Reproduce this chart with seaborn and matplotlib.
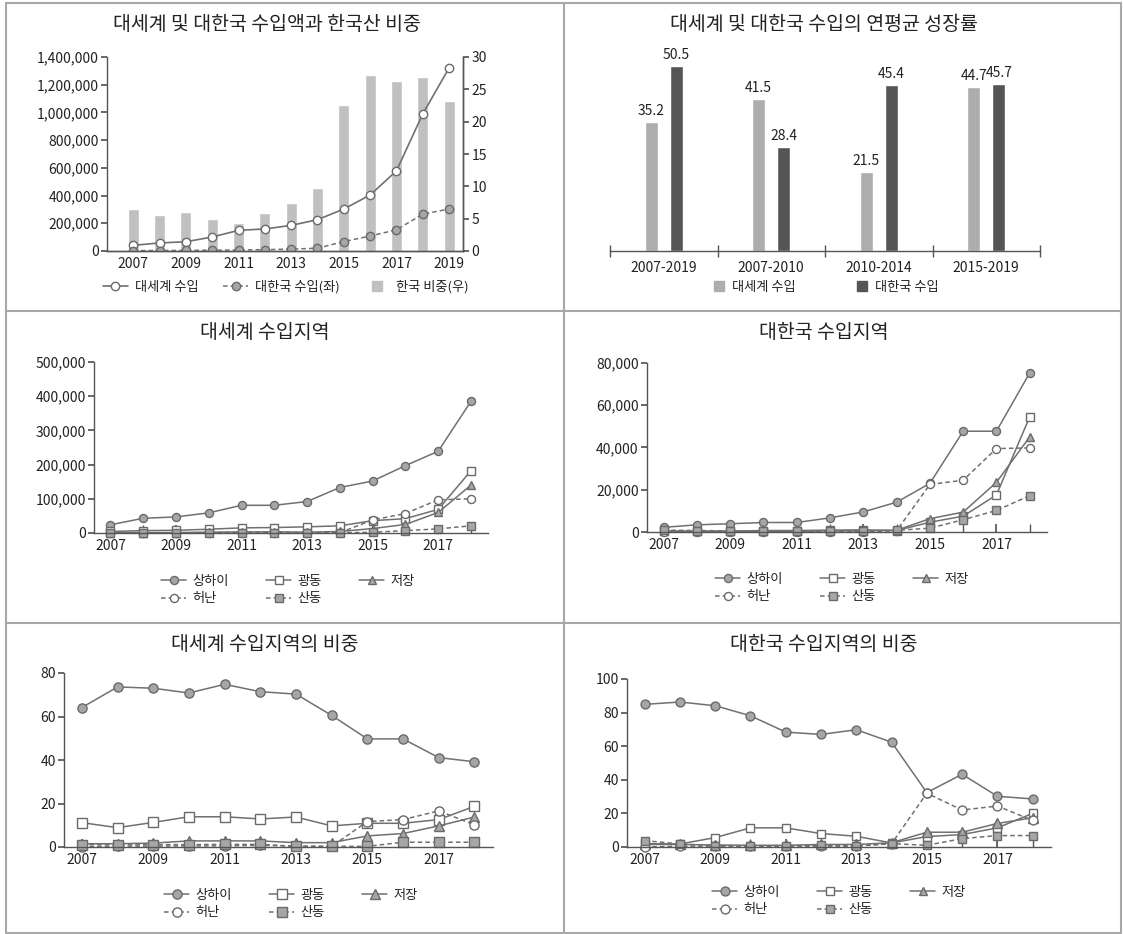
import matplotlib
matplotlib.use("Agg")
import matplotlib.pyplot as plt
import numpy as np
import pandas as pd
import seaborn as sns
from matplotlib.lines import Line2D
from matplotlib.ticker import FuncFormatter, MultipleLocator, FixedLocator

# ---------------- data ----------------
years_total = [2007, 2008, 2009, 2010, 2011, 2012, 2013, 2014, 2015, 2016, 2017, 2018, 2019]
world_imports = [41000, 58000, 67000, 101000, 149000, 159000, 185000, 226000,
                 303000, 404000, 578000, 989000, 1321000]
korea_imports = [3000, 3500, 4000, 6000, 7000, 9500, 14000, 20000,
                 68000, 108000, 153000, 266000, 303000]
korea_share = [6.5, 5.5, 6.0, 4.9, 4.3, 5.8, 7.5, 9.8, 22.6, 27.2, 26.3, 26.9, 23.2]

periods = ["2007-2019", "2007-2010", "2010-2014", "2015-2019"]
growth_world = [35.2, 41.5, 21.5, 44.7]
growth_korea = [50.5, 28.4, 45.4, 45.7]

years_region = [2007, 2008, 2009, 2010, 2011, 2012, 2013, 2014, 2015, 2016, 2017, 2018]
regions = ["상하이", "광동", "저장", "허난", "산동"]

world_region_values = {
    "상하이": [24000, 43000, 47000, 59000, 81000, 81000, 92000, 133000, 152000, 197000, 239000, 385000],
    "광동": [4500, 7000, 8000, 11000, 15000, 16000, 18000, 21000, 36000, 42000, 69000, 182000],
    "저장": [1000, 1200, 1300, 2500, 3300, 3400, 2600, 4400, 13000, 25000, 60000, 140000],
    "허난": [300, 400, 400, 500, 500, 1000, 600, 1000, 38000, 57000, 97000, 100000],
    "산동": [400, 600, 600, 800, 1100, 1100, 700, 1000, 2000, 7000, 12000, 21000],
}
korea_region_values = {
    "상하이": [2200, 3400, 3900, 4500, 4500, 6700, 9500, 14100, 23000, 47700, 47700, 75300],
    "광동": [300, 300, 400, 700, 700, 900, 1000, 700, 4600, 7500, 17500, 54500],
    "저장": [500, 300, 400, 300, 400, 500, 600, 800, 6300, 9400, 23500, 45000],
    "허난": [0, 200, 200, 200, 200, 200, 200, 600, 22500, 24500, 39500, 39800],
    "산동": [900, 700, 500, 400, 400, 500, 400, 800, 1800, 5800, 10200, 17200],
}
world_region_share = {
    "상하이": [64.1, 73.6, 73.0, 70.8, 74.8, 71.4, 70.3, 60.5, 49.7, 49.7, 41.1, 39.2],
    "광동": [11.2, 8.9, 11.3, 13.9, 13.9, 12.9, 13.8, 9.7, 10.9, 10.9, 12.6, 18.7],
    "저장": [1.5, 1.5, 1.8, 2.8, 2.8, 2.8, 2.0, 2.0, 5.1, 6.2, 9.7, 13.8],
    "허난": [0.2, 0.4, 0.4, 0.5, 0.5, 0.8, 0.4, 0.3, 11.7, 12.6, 16.6, 10.2],
    "산동": [1.1, 1.1, 1.1, 1.1, 1.2, 1.2, 0.3, 0.3, 0.3, 2.2, 2.2, 2.2],
}
korea_region_share = {
    "상하이": [84.9, 86.3, 84.1, 78.1, 68.4, 67.0, 69.8, 62.4, 32.4, 43.3, 30.2, 28.6],
    "광동": [2.0, 1.8, 5.6, 11.4, 11.4, 8.0, 6.4, 2.4, 6.2, 7.4, 11.4, 20.0],
    "저장": [1.5, 1.5, 1.2, 1.0, 1.0, 1.5, 1.5, 2.5, 8.8, 8.8, 14.0, 17.4],
    "허난": [0.0, 0.5, 0.5, 0.5, 0.5, 0.5, 0.5, 2.0, 32.0, 22.0, 24.4, 15.8],
    "산동": [3.8, 1.8, 0.8, 0.8, 0.8, 1.0, 0.8, 2.0, 1.0, 5.0, 6.8, 6.8],
}

# ---------------- style ----------------
sns.set_theme(style="ticks")
plt.rcParams["font.family"] = ["Noto Sans CJK KR", "DejaVu Sans"]
TEXT = "#222222"
AXIS = "#555555"
LINE = "#707070"
EDGE = "#6a6a6a"
FILL = "#a6a6a6"
BAR_LIGHT = "#c0c0c0"
BAR_MID = "#adadad"
BAR_DARK = "#555555"
plt.rcParams.update({
    "text.color": TEXT, "axes.labelcolor": TEXT,
    "xtick.color": AXIS, "ytick.color": AXIS,
    "xtick.labelcolor": TEXT, "ytick.labelcolor": TEXT,
    "axes.edgecolor": AXIS, "axes.linewidth": 1.0,
})

W, H = 1123, 934
fig = plt.figure(figsize=(W / 100, H / 100), dpi=100)
fig.patch.set_facecolor("white")


def px_axes(left, top, right, bottom):
    return fig.add_axes([left / W, 1 - bottom / H, (right - left) / W, (bottom - top) / H])


def fig_title(x, y, s):
    fig.text(x / W, 1 - y / H, s, ha="center", va="center", fontsize=14, color=TEXT)


comma = FuncFormatter(lambda v, p: f"{int(v):,}")

# grid of panel borders
border = dict(color="#a8a8a8", lw=1.5, transform=fig.transFigure)
for xs, ys in [([6, 6], [3, 933]), ([1121, 1121], [3, 933]), ([6, 1121], [3, 3]),
               ([6, 1121], [933, 933]), ([564, 564], [3, 933]),
               ([6, 1121], [311, 311]), ([6, 1121], [623, 623])]:
    fig.add_artist(Line2D([x / W for x in xs], [1 - y / H for y in ys], **border))

# ---------------- panel 1: imports and Korea share ----------------
ax_bar = px_axes(107, 57, 463, 251)
sns.barplot(x=years_total, y=korea_share, native_scale=True, width=0.42,
            color=BAR_LIGHT, saturation=1, ax=ax_bar, zorder=1)
ax_bar.set_xlabel(""); ax_bar.set_ylabel("")

# line axis on the left, drawn above the bars
ax_line = ax_bar.twinx()
sns.lineplot(x=years_total, y=world_imports, ax=ax_line, color=LINE, lw=1.2,
             marker="o", markersize=6, markerfacecolor="white", markeredgecolor=EDGE,
             markeredgewidth=1.0)
sns.lineplot(x=years_total, y=korea_imports, ax=ax_line, color=LINE, lw=1.1,
             linestyle=(0, (3, 2)), marker="o", markersize=6, markerfacecolor=FILL,
             markeredgecolor=EDGE, markeredgewidth=1.0)
ax_line.set_ylim(0, 1400000)
ax_line.yaxis.set_major_locator(MultipleLocator(200000))
ax_line.yaxis.set_major_formatter(comma)
ax_line.yaxis.tick_left()
ax_line.yaxis.set_label_position("left")
ax_line.tick_params(axis="y", direction="out", length=4, labelsize=10, pad=2)
ax_line.spines["top"].set_visible(False)
ax_line.spines["right"].set_visible(True)
ax_line.spines["left"].set_visible(True)
ax_line.set_xlim(2006.0, 2019.53)
ax_line.set_ylabel("")

# share axis on the right
ax_bar.set_ylim(0, 30)
ax_bar.yaxis.set_major_locator(MultipleLocator(5))
ax_bar.yaxis.tick_right()
ax_bar.yaxis.set_label_position("right")
ax_bar.spines["top"].set_visible(False)
ax_bar.spines["left"].set_visible(False)
ax_bar.set_xlim(2006.0, 2019.53)
ax_bar.set_xticks(years_total[::2])
ax_bar.set_xticks(years_total, minor=True)
ax_bar.tick_params(axis="x", which="both", direction="in", length=5, labelsize=10, pad=4)
ax_bar.tick_params(axis="y", direction="out", length=4, labelsize=10, pad=2,
                   left=False, labelleft=False, right=True, labelright=True)
fig_title(267, 25, "대세계 및 대한국 수입액과 한국산 비중")

h1 = [Line2D([], [], color=LINE, lw=1.2, marker="o", ms=6, mfc="white", mec=EDGE),
      Line2D([], [], color=LINE, lw=1.1, ls=(0, (3, 2)), marker="o", ms=6, mfc=FILL, mec=EDGE),
      Line2D([], [], color=BAR_LIGHT, lw=0, marker="s", ms=7)]
fig.legend(h1, ["대세계 수입", "대한국 수입(좌)", "한국 비중(우)"], loc="center",
           bbox_to_anchor=(286 / W, 1 - 287 / H), ncol=3, frameon=False, fontsize=9.5,
           handlelength=1.9, handletextpad=0.5, columnspacing=1.9)

# ---------------- panel 2: average annual growth ----------------
ax2 = px_axes(610, 57, 1040, 251)
growth_df = pd.DataFrame({
    "period": periods * 2,
    "series": ["대세계 수입"] * 4 + ["대한국 수입"] * 4,
    "value": growth_world + growth_korea,
})
sns.barplot(data=growth_df, x="period", y="value", hue="series",
            palette=[BAR_MID, BAR_DARK], saturation=1, width=0.467, gap=0.485,
            legend=False, ax=ax2)
for cont in ax2.containers:
    ax2.bar_label(cont, fmt="%.1f", padding=3, fontsize=10, color=TEXT)
ax2.set_xlim(-0.5, 3.5)
ax2.set_ylim(0, 53)
ax2.set_yticks([])
for s in ["top", "left", "right"]:
    ax2.spines[s].set_visible(False)
ax2.set_xticks(range(4))
ax2.set_xticklabels(periods)
ax2.xaxis.set_minor_locator(FixedLocator([-0.5, 0.5, 1.5, 2.5, 3.5]))
ax2.tick_params(axis="x", which="major", length=0, labelsize=10, pad=7)
ax2.tick_params(axis="x", which="minor", direction="inout", length=8)
ax2.set_xlabel(""); ax2.set_ylabel("")
fig_title(824, 25, "대세계 및 대한국 수입의 연평균 성장률")

h2 = [Line2D([], [], color=BAR_MID, lw=0, marker="s", ms=7),
      Line2D([], [], color=BAR_DARK, lw=0, marker="s", ms=7)]
fig.legend(h2, ["대세계 수입", "대한국 수입"], loc="center",
           bbox_to_anchor=(826 / W, 1 - 287 / H), ncol=2, frameon=False, fontsize=9.5,
           handlelength=0.8, handletextpad=0.6, columnspacing=4.6)

# ---------------- panels 3-6: regions ----------------
styles = {
    "상하이": dict(ls="-", marker="o", mfc=FILL),
    "광동": dict(ls="-", marker="s", mfc="white"),
    "저장": dict(ls="-", marker="^", mfc=FILL),
    "허난": dict(ls=(0, (3, 2)), marker="o", mfc="white"),
    "산동": dict(ls=(0, (3, 2)), marker="s", mfc=FILL),
}
legend_order = ["상하이", "허난", "광동", "산동", "저장"]


def region_panel(box, data, ylim, step, fmt, title, title_xy, legend_xy, ms):
    ax = px_axes(*box)
    for name in regions:
        st = styles[name]
        sns.lineplot(x=years_region, y=data[name], ax=ax, color=LINE, lw=1.1,
                     linestyle=st["ls"], marker=st["marker"],
                     markersize=ms * (1.1 if st["marker"] == "^" else 1.0),
                     markerfacecolor=st["mfc"], markeredgecolor=EDGE,
                     markeredgewidth=1.0, clip_on=False)
    ax.set_xlim(2006.5, 2018.52)
    ax.set_ylim(*ylim)
    ax.yaxis.set_major_locator(MultipleLocator(step))
    if fmt:
        ax.yaxis.set_major_formatter(comma)
    ax.set_xticks([2007, 2009, 2011, 2013, 2015, 2017])
    ax.set_xticks(years_region, minor=True)
    ax.tick_params(axis="x", which="both", direction="in", length=6, labelsize=10, pad=4)
    ax.tick_params(axis="y", direction="out", length=4, labelsize=10, pad=2)
    for s in ["top", "right"]:
        ax.spines[s].set_visible(False)
    ax.set_xlabel(""); ax.set_ylabel("")
    fig_title(*title_xy, title)
    hs = [Line2D([], [], color=LINE, lw=1.1, ls=styles[n]["ls"], marker=styles[n]["marker"],
                 ms=ms, mfc=styles[n]["mfc"], mec=EDGE) for n in legend_order]
    fig.legend(hs, legend_order, loc="center",
               bbox_to_anchor=(legend_xy[0] / W, 1 - legend_xy[1] / H), ncol=3,
               frameon=False, fontsize=9.5, handlelength=1.9, handletextpad=0.5,
               columnspacing=2.8, labelspacing=0.35)
    return ax


region_panel((94, 362, 488, 533), world_region_values, (0, 500000), 100000, True,
             "대세계 수입지역", (265, 332), (288, 590), 5.8)
region_panel((647, 363, 1047, 532), korea_region_values, (0, 80000), 20000, True,
             "대한국 수입지역", (824, 332), (842, 588), 5.8)
region_panel((64, 673, 493, 847), world_region_share, (0, 80), 20, False,
             "대세계 수입지역의 비중", (265, 645), (291, 904), 6.6)
region_panel((627, 679, 1051, 847), korea_region_share, (0, 100), 20, False,
             "대한국 수입지역의 비중", (824, 645), (839, 901), 6.4)

fig.savefig("out.png", dpi=100, facecolor="white")
